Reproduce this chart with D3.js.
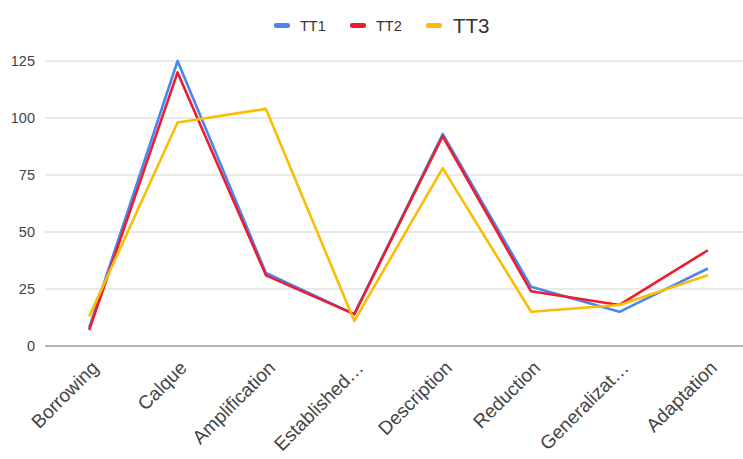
<!DOCTYPE html>
<html>
<head>
<meta charset="utf-8">
<script src="https://cdn.jsdelivr.net/npm/d3@7"></script>
<style>
  html, body { margin: 0; padding: 0; background: #fff; }
  svg { display: block; font-family: "Liberation Sans", Arial, sans-serif; }
</style>
</head>
<body>
<svg id="chart" width="743" height="459"></svg>
<script>
// Translation techniques and counts per target text
const categories = ["Borrowing", "Calque", "Amplification", "Established\u2026",
  "Description", "Reduction", "Generalizat\u2026", "Adaptation"];
const tt1 = [8, 125, 32, 14, 93, 26, 15, 34];
const tt2 = [7, 120, 31, 14, 92, 24, 18, 42];
const tt3 = [13, 98, 104, 11, 78, 15, 18, 31];
const yTicks = [0, 25, 50, 75, 100, 125];

const seriesNames = ["TT1", "TT2", "TT3"];
const seriesColors = ["#4a86f0", "#ee1c2e", "#fbbc04"];
const seriesValues = [tt1, tt2, tt3];

const width = 743, height = 459;
const svg = d3.select("#chart");

const x = d3.scalePoint().domain(categories).range([45, 752]).padding(0.5);
const y = d3.scaleLinear().domain([0, 125]).range([346, 61]);

// horizontal gridlines
svg.append("g")
  .selectAll("line")
  .data(yTicks.filter(d => d !== 0))
  .join("line")
  .attr("x1", 45).attr("x2", width)
  .attr("y1", d => y(d)).attr("y2", d => y(d))
  .attr("stroke", "#e3e3e3").attr("stroke-width", 1.5);

// y axis labels
const yAxis = svg.append("g")
  .attr("transform", "translate(35,0)")
  .call(d3.axisLeft(y).tickValues(yTicks).tickSize(0).tickPadding(0));
yAxis.select(".domain").remove();
yAxis.selectAll("text")
  .attr("fill", "#444").attr("font-size", 14.5)
  .attr("font-family", "Liberation Sans, Arial, sans-serif");

// baseline
svg.append("line")
  .attr("x1", 45).attr("x2", width)
  .attr("y1", y(0)).attr("y2", y(0))
  .attr("stroke", "#9a9a9a").attr("stroke-width", 1.6);

// x axis labels, rotated
const xAxis = svg.append("g")
  .attr("transform", `translate(0,${y(0)})`)
  .call(d3.axisBottom(x).tickSize(0).tickPadding(0));
xAxis.select(".domain").remove();
xAxis.selectAll("text")
  .attr("fill", "#444").attr("font-size", 19)
  .attr("font-family", "Liberation Sans, Arial, sans-serif")
  .attr("text-anchor", "end")
  .attr("dy", 0)
  .attr("transform", "translate(10,23) rotate(-45)");

// series lines
const line = d3.line()
  .x((d, i) => x(categories[i]))
  .y(d => y(d));

svg.append("g")
  .selectAll("path")
  .data(seriesValues)
  .join("path")
  .attr("d", d => line(d))
  .attr("fill", "none")
  .attr("stroke", (d, i) => seriesColors[i])
  .attr("stroke-width", 2.6)
  .attr("stroke-linejoin", "round");

// legend
const legendItems = [
  { name: seriesNames[0], color: seriesColors[0], sx: 274, tx: 300, size: 14.5 },
  { name: seriesNames[1], color: seriesColors[1], sx: 350, tx: 376, size: 14.5 },
  { name: seriesNames[2], color: seriesColors[2], sx: 426, tx: 453, size: 20.5 }
];
const legend = svg.append("g");
legend.selectAll("rect")
  .data(legendItems)
  .join("rect")
  .attr("x", d => d.sx).attr("y", 23)
  .attr("width", 16).attr("height", 5)
  .attr("rx", 2)
  .attr("fill", d => d.color);
legend.selectAll("text")
  .data(legendItems)
  .join("text")
  .attr("x", d => d.tx).attr("y", 25.5)
  .attr("dy", "0.36em")
  .attr("font-size", d => d.size)
  .attr("fill", "#333")
  .text(d => d.name);
</script>
</body>
</html>
